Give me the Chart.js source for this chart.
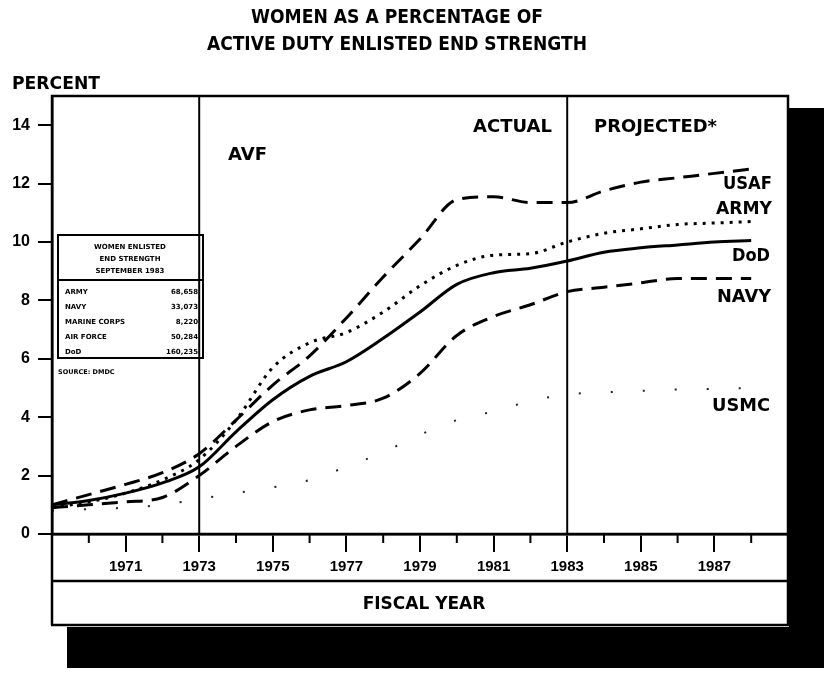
<!DOCTYPE html>
<html>
<head>
<meta charset="utf-8">
<script src="https://cdn.jsdelivr.net/npm/chart.js@4"></script>
<style>
  body { margin: 0; background: #fff; }
  canvas { display: block; }
</style>
</head>
<body>
<canvas id="womenChart" width="824" height="673"></canvas>
<script>
// fiscal years and percentages
const years = [1969, 1970, 1971, 1972, 1973, 1974, 1975, 1976, 1977, 1978, 1979, 1980, 1981, 1982, 1983, 1984, 1985, 1986, 1987, 1988];
const usaf = [1.0, 1.35, 1.7, 2.1, 2.75, 3.9, 5.1, 6.1, 7.4, 8.8, 10.1, 11.45, 11.55, 11.35, 11.35, 11.75, 12.05, 12.2, 12.35, 12.5];
const army = [0.9, 1.1, 1.4, 1.85, 2.55, 3.9, 5.7, 6.55, 6.9, 7.6, 8.5, 9.2, 9.55, 9.6, 10.0, 10.3, 10.45, 10.6, 10.65, 10.7];
const dod = [1.0, 1.15, 1.4, 1.75, 2.3, 3.5, 4.6, 5.4, 5.9, 6.7, 7.6, 8.55, 8.95, 9.1, 9.35, 9.65, 9.8, 9.9, 10.0, 10.05];
const navy = [0.9, 1.0, 1.1, 1.25, 2.0, 3.0, 3.85, 4.25, 4.4, 4.65, 5.5, 6.8, 7.45, 7.85, 8.3, 8.45, 8.6, 8.75, 8.75, 8.75];
const usmc = [0.8, 0.85, 0.9, 1.0, 1.2, 1.4, 1.6, 1.85, 2.3, 2.8, 3.4, 3.9, 4.2, 4.55, 4.78, 4.85, 4.9, 4.95, 4.97, 5.0];

const labeledYears = [1971, 1973, 1975, 1977, 1979, 1981, 1983, 1985, 1987];
const eraLines = [1973, 1983];

// little table in the corner
const insetTitle = ['WOMEN ENLISTED', 'END STRENGTH', 'SEPTEMBER 1983'];
const insetNames = ['ARMY', 'NAVY', 'MARINE CORPS', 'AIR FORCE', 'DoD'];
const insetValues = ['68,658', '33,073', '8,220', '50,284', '160,235'];

const FONT = "'Liberation Sans', Arial, sans-serif";
const HEAVY = "'DejaVu Sans', 'Liberation Sans', sans-serif";

function pts(vals) {
    return years.map((y, i) => ({ x: y, y: vals[i] }));
}

function txt(ctx, s, x, y, size, align, maxW, fam) {
    ctx.font = 'bold ' + size + 'px ' + (fam || HEAVY);
    ctx.textAlign = align || 'left';
    ctx.textBaseline = 'middle';
    ctx.fillStyle = '#000';
    if (maxW) ctx.fillText(s, x, y, maxW); else ctx.fillText(s, x, y);
}

const framePlugin = {
    id: 'frame',
    beforeDraw(chart) {
        const ctx = chart.ctx;
        const a = chart.chartArea;
        ctx.save();
        ctx.fillStyle = '#fff';
        ctx.fillRect(0, 0, chart.width, chart.height);
        // drop shadow
        ctx.fillStyle = '#000';
        ctx.fillRect(a.right + 1, 108, chart.width - a.right - 1, 560);
        ctx.fillRect(67, 627, chart.width - 67, 41);
        ctx.fillStyle = '#fff';
        ctx.fillRect(a.left, a.top, a.right - a.left, 625 - a.top);
        ctx.restore();
    },
    beforeDatasetsDraw(chart) {
        const ctx = chart.ctx;
        const a = chart.chartArea;
        const xs = chart.scales.x;
        ctx.save();
        ctx.strokeStyle = '#000';
        ctx.lineWidth = 2;
        eraLines.forEach(yr => {
            const px = xs.getPixelForValue(yr);
            ctx.beginPath();
            ctx.moveTo(px, a.top);
            ctx.lineTo(px, a.bottom);
            ctx.stroke();
        });
        ctx.restore();
    },
    afterDraw(chart) {
        const ctx = chart.ctx;
        const a = chart.chartArea;
        const xs = chart.scales.x;
        ctx.save();
        ctx.strokeStyle = '#000';
        ctx.lineWidth = 2.5;
        ctx.strokeRect(a.left, a.top, a.right - a.left, a.bottom - a.top);
        // bands under the axis
        ctx.beginPath();
        ctx.moveTo(a.left, a.bottom); ctx.lineTo(a.left, 625);
        ctx.moveTo(a.right, a.bottom); ctx.lineTo(a.right, 625);
        ctx.moveTo(a.left, 581); ctx.lineTo(a.right, 581);
        ctx.moveTo(a.left - 1, 625); ctx.lineTo(a.right + 1, 625);
        ctx.stroke();
        // short ticks on even years
        ctx.lineWidth = 2;
        years.forEach(yr => {
            if (yr % 2 === 0) {
                const px = xs.getPixelForValue(yr);
                ctx.beginPath();
                ctx.moveTo(px, a.bottom);
                ctx.lineTo(px, a.bottom + 9);
                ctx.stroke();
            }
        });

        txt(ctx, 'WOMEN AS A PERCENTAGE OF', 397, 18, 20, 'center', 292);
        txt(ctx, 'ACTIVE DUTY ENLISTED END STRENGTH', 397, 45, 20, 'center', 380);
        txt(ctx, 'PERCENT', 12, 84, 18, 'left', 88);
        txt(ctx, 'AVF', 228, 155, 18, 'left', 39);
        txt(ctx, 'ACTUAL', 473, 127, 18, 'left', 79);
        txt(ctx, 'PROJECTED*', 594, 127, 18, 'left', 123);
        txt(ctx, 'USAF', 772, 184, 18, 'right', 49);
        txt(ctx, 'ARMY', 772, 209, 18, 'right', 56);
        txt(ctx, 'DoD', 770, 256, 18, 'right', 38);
        txt(ctx, 'NAVY', 771, 297, 18, 'right', 54);
        txt(ctx, 'USMC', 770, 406, 18, 'right', 58);
        txt(ctx, 'FISCAL YEAR', 424, 605, 17, 'center', 125);

        // inset table
        ctx.lineWidth = 2;
        ctx.strokeRect(58, 235, 145, 123);
        ctx.beginPath();
        ctx.moveTo(58, 280); ctx.lineTo(203, 280);
        ctx.stroke();
        insetTitle.forEach((s, i) => txt(ctx, s, 130, 247 + i * 12, 7, 'center', 76));
        insetNames.forEach((s, i) => {
            txt(ctx, s, 65, 292 + i * 15, 7, 'left');
            txt(ctx, insetValues[i], 198, 292 + i * 15, 7, 'right');
        });
        txt(ctx, 'SOURCE: DMDC', 58, 372, 6.5, 'left');
        ctx.restore();
    }
};

const ctx = document.getElementById('womenChart').getContext('2d');
new Chart(ctx, {
    type: 'line',
    data: {
        datasets: [
            { label: 'USAF', data: pts(usaf), borderColor: '#000', borderWidth: 3, borderDash: [16, 9] },
            { label: 'ARMY', data: pts(army), borderColor: '#000', borderWidth: 3, borderDash: [3, 6] },
            { label: 'DoD', data: pts(dod), borderColor: '#000', borderWidth: 3 },
            { label: 'NAVY', data: pts(navy), borderColor: '#000', borderWidth: 3, borderDash: [16, 9] },
            { label: 'USMC', data: pts(usmc), borderColor: '#222', borderWidth: 2, borderDash: [2, 30] },
        ],
    },
    options: {
        responsive: false,
        animation: false,
        devicePixelRatio: 1,
        layout: { padding: { top: 96, right: 36, left: 0, bottom: 0 } },
        elements: {
            point: { radius: 0 },
            line: { cubicInterpolationMode: 'monotone', fill: false },
        },
        plugins: {
            legend: { display: false },
            tooltip: { enabled: false },
        },
        scales: {
            x: {
                type: 'linear',
                min: 1969,
                max: 1989,
                afterFit(scale) { scale.height = 139; },
                border: { display: true, color: '#000', width: 2.5 },
                grid: {
                    drawOnChartArea: false,
                    tickLength: 18,
                    lineWidth: 2,
                    tickColor: c => (labeledYears.includes(c.tick && c.tick.value) ? '#000' : 'rgba(0,0,0,0)'),
                },
                ticks: {
                    stepSize: 1,
                    autoSkip: false,
                    maxRotation: 0,
                    includeBounds: false,
                    padding: 6,
                    color: '#000',
                    font: { family: FONT, size: 15, weight: 'bold' },
                    callback: v => (labeledYears.includes(v) ? String(v) : ''),
                },
            },
            y: {
                min: 0,
                max: 15,
                afterFit(scale) { scale.width = 52; },
                border: { display: true, color: '#000', width: 2.5 },
                grid: { drawOnChartArea: false, tickLength: 14, lineWidth: 2, tickColor: '#000' },
                ticks: {
                    stepSize: 2,
                    includeBounds: false,
                    padding: 8,
                    color: '#000',
                    font: { family: FONT, size: 16, weight: 'bold' },
                },
            },
        },
    },
    plugins: [framePlugin],
});
</script>
</body>
</html>
